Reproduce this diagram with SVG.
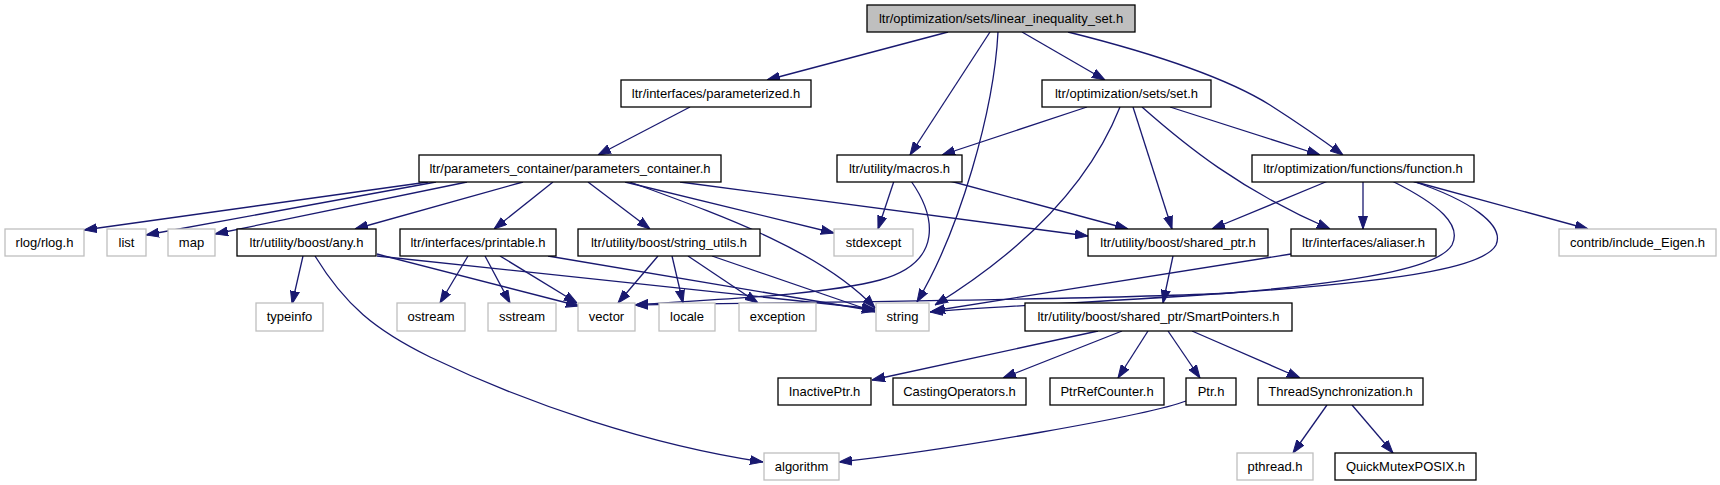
<svg xmlns="http://www.w3.org/2000/svg" width="1720" height="485" viewBox="0 0 1720 485">
<defs>
<marker id="ah" markerUnits="userSpaceOnUse" markerWidth="13" markerHeight="10" refX="13" refY="5" orient="auto" viewBox="0 0 13 10">
<path d="M0,0.5 L13,5 L0,9.5 z" fill="#191970" stroke="#191970" stroke-width="1"/>
</marker>
<style>
.e path{fill:none;stroke:#191970;stroke-width:1.3;marker-end:url(#ah)}
.n rect{fill:#fff;stroke:#000;stroke-width:1.3}
.x rect{fill:#fff;stroke:#bfbfbf;stroke-width:1.3}
.r rect{fill:#bfbfbf;stroke:#000;stroke-width:1.3}
text{font-family:"Liberation Sans",Arial,sans-serif;font-size:13px;fill:#000;text-anchor:middle}
</style>
</defs>
<rect width="1720" height="485" fill="#fff"/>
<g id="edges" class="e">
<path d="M948,32 L767,80"/>
<path d="M990,32 L910,155"/>
<path d="M998,32 C994,110 960,230 917,302"/>
<path d="M1022,32 L1105,80"/>
<path d="M1068,32 C1160,55 1230,80 1270,105 C1295,121 1320,138 1343,155"/>
<path d="M690,107 L598,155"/>
<path d="M1087,107 L942,155"/>
<path d="M1120,107 C1095,170 1040,240 935,305"/>
<path d="M1133,107 L1172,229"/>
<path d="M1142,107 C1185,145 1240,190 1330,229"/>
<path d="M1170,107 L1320,155"/>
<path d="M894,181 L878,229"/>
<path d="M950,181 L1128,229"/>
<path d="M911,181 C935,215 945,262 880,280 C820,296 700,300 635,305"/>
<path d="M428,182 L84,230"/>
<path d="M436,182 L146,235"/>
<path d="M467,182 L215,234"/>
<path d="M523,182 L355,229"/>
<path d="M553,182 L494,229"/>
<path d="M588,182 L650,229"/>
<path d="M625,182 L834,233"/>
<path d="M630,182 C720,215 820,250 875,308"/>
<path d="M680,182 L1088,236"/>
<path d="M303,256 L292,304"/>
<path d="M377,254 L579,306"/>
<path d="M377,256 L875,309"/>
<path d="M315,256 C345,305 375,330 430,357 C530,405 650,445 763,462"/>
<path d="M468,256 L440,303"/>
<path d="M485,256 L510,303"/>
<path d="M500,256 L577,303"/>
<path d="M548,256 L875,311"/>
<path d="M658,256 L618,303"/>
<path d="M672,256 L683,303"/>
<path d="M688,256 L758,303"/>
<path d="M712,256 L875,312"/>
<path d="M1173,256 L1163,303"/>
<path d="M1291,254 L932,311"/>
<path d="M1328,181 L1212,229"/>
<path d="M1363,181 L1363,229"/>
<path d="M1392,181 C1440,205 1462,225 1452,245 C1440,265 1380,280 1230,293 C1100,302 1000,306 930,312"/>
<path d="M1412,181 C1470,200 1505,225 1496,245 C1485,265 1420,280 1230,293 C1100,300 800,302 635,305"/>
<path d="M1412,181 L1588,229"/>
<path d="M1098,331 L872,380"/>
<path d="M1122,331 L1003,378"/>
<path d="M1148,331 L1118,378"/>
<path d="M1168,331 L1200,378"/>
<path d="M1192,331 L1300,378"/>
<path d="M1186,401 C1150,415 950,450 839,462"/>
<path d="M1327,405 L1293,453"/>
<path d="M1352,405 L1393,453"/>
</g>
<g id="root" class="r"><rect x="867" y="5" width="268" height="27"/><text x="1001" y="23">ltr/optimization/sets/linear_inequality_set.h</text></g>
<g id="parameterized" class="n"><rect x="621" y="80" width="190" height="27"/><text x="716" y="98">ltr/interfaces/parameterized.h</text></g>
<g id="set" class="n"><rect x="1042" y="80" width="169" height="27"/><text x="1126.5" y="98">ltr/optimization/sets/set.h</text></g>
<g id="params" class="n"><rect x="419" y="155" width="302" height="27"/><text x="570" y="173">ltr/parameters_container/parameters_container.h</text></g>
<g id="macros" class="n"><rect x="837" y="155" width="125" height="27"/><text x="899.5" y="173">ltr/utility/macros.h</text></g>
<g id="function" class="n"><rect x="1252" y="155" width="222" height="27"/><text x="1363" y="173">ltr/optimization/functions/function.h</text></g>
<g id="rlog" class="x"><rect x="5" y="229" width="79" height="27"/><text x="44.5" y="247">rlog/rlog.h</text></g>
<g id="list" class="x"><rect x="107" y="229" width="39" height="27"/><text x="126.5" y="247">list</text></g>
<g id="map" class="x"><rect x="168" y="229" width="47" height="27"/><text x="191.5" y="247">map</text></g>
<g id="any" class="n"><rect x="237" y="229" width="139" height="27"/><text x="306.5" y="247">ltr/utility/boost/any.h</text></g>
<g id="printable" class="n"><rect x="400" y="229" width="156" height="27"/><text x="478" y="247">ltr/interfaces/printable.h</text></g>
<g id="string_utils" class="n"><rect x="578" y="229" width="182" height="27"/><text x="669" y="247">ltr/utility/boost/string_utils.h</text></g>
<g id="stdexcept" class="x"><rect x="834" y="229" width="79" height="27"/><text x="873.5" y="247">stdexcept</text></g>
<g id="shared_ptr" class="n"><rect x="1088" y="229" width="180" height="27"/><text x="1178" y="247">ltr/utility/boost/shared_ptr.h</text></g>
<g id="aliaser" class="n"><rect x="1291" y="229" width="145" height="27"/><text x="1363.5" y="247">ltr/interfaces/aliaser.h</text></g>
<g id="eigen" class="x"><rect x="1559" y="229" width="157" height="27"/><text x="1637.5" y="247">contrib/include_Eigen.h</text></g>
<g id="typeinfo" class="x"><rect x="256" y="303" width="67" height="28"/><text x="289.5" y="321">typeinfo</text></g>
<g id="ostream" class="x"><rect x="397" y="303" width="68" height="28"/><text x="431" y="321">ostream</text></g>
<g id="sstream" class="x"><rect x="488" y="303" width="68" height="28"/><text x="522" y="321">sstream</text></g>
<g id="vector" class="x"><rect x="578" y="303" width="57" height="28"/><text x="606.5" y="321">vector</text></g>
<g id="locale" class="x"><rect x="659" y="303" width="56" height="28"/><text x="687" y="321">locale</text></g>
<g id="exception" class="x"><rect x="739" y="303" width="77" height="28"/><text x="777.5" y="321">exception</text></g>
<g id="string" class="x"><rect x="876" y="303" width="53" height="28"/><text x="902.5" y="321">string</text></g>
<g id="smartpointers" class="n"><rect x="1025" y="303" width="267" height="28"/><text x="1158.5" y="321">ltr/utility/boost/shared_ptr/SmartPointers.h</text></g>
<g id="inactiveptr" class="n"><rect x="778" y="378" width="93" height="27"/><text x="824.5" y="396">InactivePtr.h</text></g>
<g id="casting" class="n"><rect x="893" y="378" width="133" height="27"/><text x="959.5" y="396">CastingOperators.h</text></g>
<g id="ptrrefcounter" class="n"><rect x="1050" y="378" width="114" height="27"/><text x="1107" y="396">PtrRefCounter.h</text></g>
<g id="ptr" class="n"><rect x="1186" y="378" width="50" height="27"/><text x="1211" y="396">Ptr.h</text></g>
<g id="threadsync" class="n"><rect x="1258" y="378" width="165" height="27"/><text x="1340.5" y="396">ThreadSynchronization.h</text></g>
<g id="algorithm" class="x"><rect x="764" y="453" width="75" height="27"/><text x="801.5" y="471">algorithm</text></g>
<g id="pthread" class="x"><rect x="1237" y="453" width="76" height="27"/><text x="1275" y="471">pthread.h</text></g>
<g id="quickmutex" class="n"><rect x="1335" y="453" width="141" height="27"/><text x="1405.5" y="471">QuickMutexPOSIX.h</text></g>
</svg>
